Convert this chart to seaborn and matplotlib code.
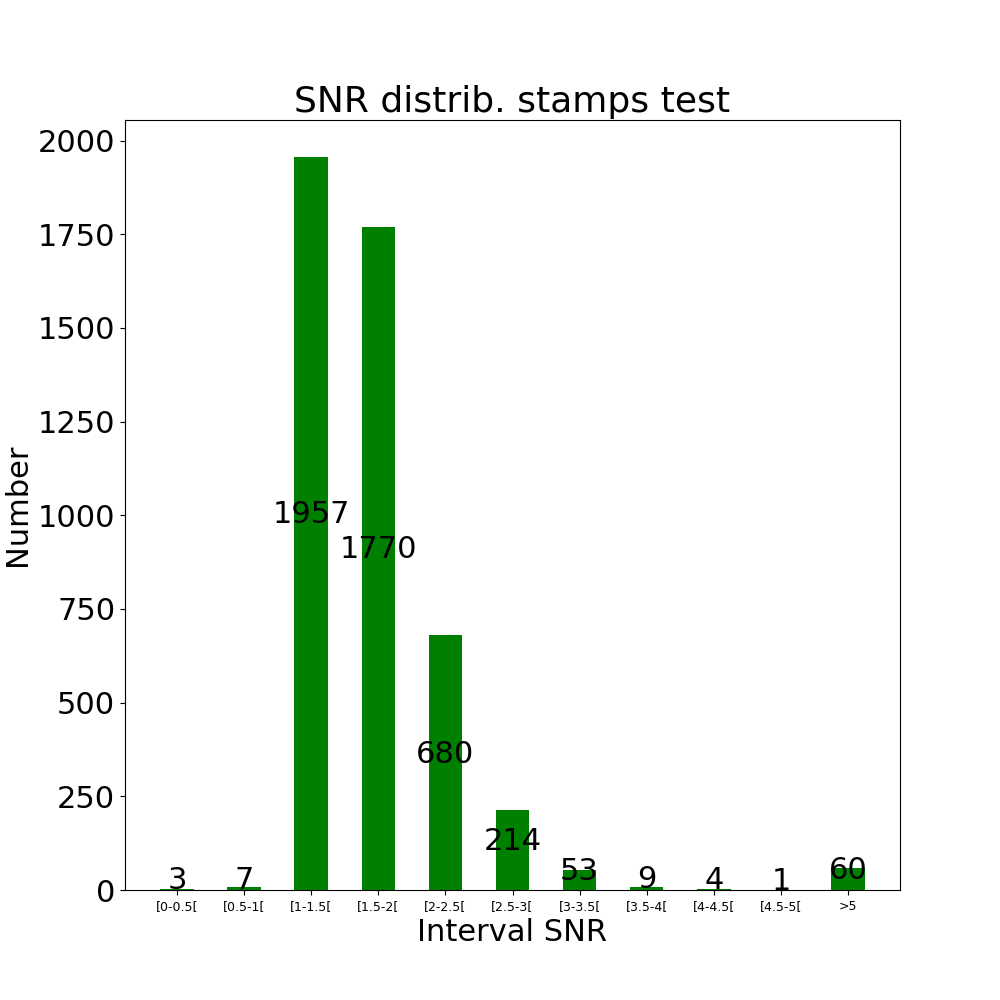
import matplotlib
matplotlib.use("Agg")
import matplotlib.pyplot as plt
import seaborn as sns
import pandas as pd

categories = ["[0-0.5[", "[0.5-1[", "[1-1.5[", "[1.5-2[", "[2-2.5[", "[2.5-3[",
              "[3-3.5[", "[3.5-4[", "[4-4.5[", "[4.5-5[", ">5"]
counts = [3, 7, 1957, 1770, 680, 214, 53, 9, 4, 1, 60]

df = pd.DataFrame({"cat": categories, "n": counts})
fig, ax = plt.subplots(figsize=(10, 10), dpi=100)
sns.barplot(data=df, x="cat", y="n", color="green", saturation=1, width=0.5, ax=ax)
for i, v in enumerate(counts):
    ax.text(i, v / 2, str(v), ha="center", va="baseline", fontsize=22)
ax.set_xlim(-0.775, len(categories) - 1 + 0.775)
ax.set_ylim(0, max(counts) * 1.05)
ax.set_title("SNR distrib. stamps test", fontsize=26)
ax.set_xlabel("Interval SNR", fontsize=22)
ax.set_ylabel("Number", fontsize=22)
ax.tick_params(axis="y", labelsize=22)
ax.tick_params(axis="x", labelsize=9)
fig.savefig("out.png")
